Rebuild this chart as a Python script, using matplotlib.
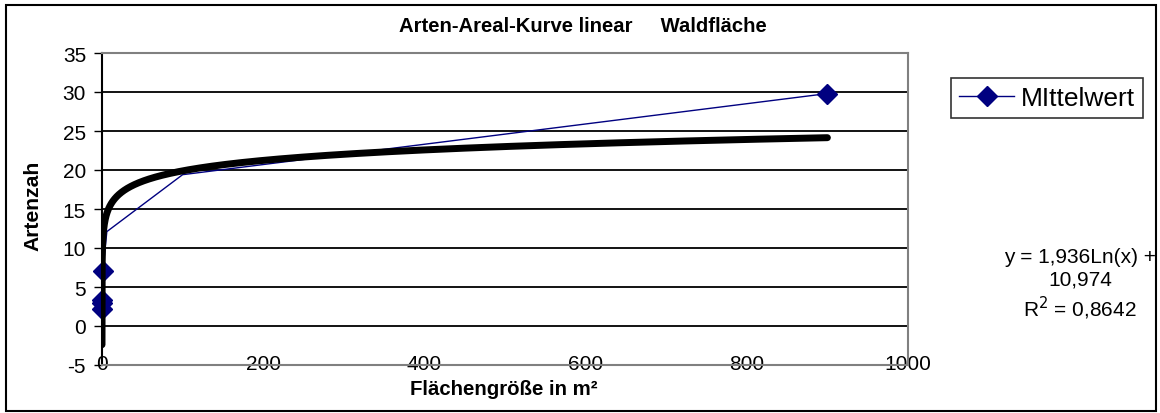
import numpy as np
import matplotlib.pyplot as plt

plt.rcParams['font.family'] = ['Liberation Sans', 'DejaVu Sans']
plt.rcParams['axes.unicode_minus'] = False

# Mittelwert data (area in m², species count)
flaeche = [0.01, 0.05, 0.1, 1, 6, 100, 900]
arten = [2.2, 3.3, 2.9, 7.0, 12.1, 19.4, 29.8]

# logarithmic trendline as printed in the chart
trend_a = 1.936
trend_b = 10.974
trend_x = np.linspace(0.001, 900, 4000)
trend_y = trend_a * np.log(trend_x) + trend_b

yticks = [-5, 0, 5, 10, 15, 20, 25, 30, 35]
xticks = [0, 200, 400, 600, 800, 1000]

fig = plt.figure(figsize=(11.6, 4.14), dpi=100)
ax = fig.add_axes([102/1160, 1 - 366/414, 806/1160, 312/414])

for v in yticks[1:-1]:
    ax.axhline(v, color='black', lw=1.3, zorder=1)

# markers at 6 and 100 m² are hidden under the trendline in the original
ax.plot(flaeche, arten, color='#000080', lw=1, marker='D', markersize=10,
        markevery=[0, 1, 2, 3, 6], label='MIttelwert', zorder=2, clip_on=False)
ax.plot(trend_x, trend_y, color='black', lw=5, solid_capstyle='round', zorder=3)

ax.set_xlim(0, 1000)
ax.set_ylim(-5, 35)
ax.set_xticks(xticks)
ax.set_yticks(yticks)
ax.tick_params(axis='x', length=0, pad=-8, labelsize=15)
ax.tick_params(axis='y', length=6, width=1, direction='out', labelsize=15, pad=5.5)

for s in ['top', 'right', 'bottom']:
    ax.spines[s].set_color('#808080')
    ax.spines[s].set_linewidth(1.5)
ax.spines['left'].set_color('black')
ax.spines['left'].set_linewidth(1.5)

fig.text(504/1160, 1 - 390/414, 'Flächengröße in m²', fontsize=14.7,
         fontweight='bold', ha='center', va='center')
fig.text(33/1160, 1 - 206/414, 'Artenzah', fontsize=15.2, fontweight='bold',
         rotation=90, ha='center', va='center')
fig.text(583/1160, 1 - 26/414, 'Arten-Areal-Kurve linear     Waldfläche',
         fontsize=14.6, fontweight='bold', ha='center', va='center')

leg = fig.legend(loc='center', bbox_to_anchor=(1047/1160, 1 - 99/414), fontsize=19,
                 frameon=True, fancybox=False, edgecolor='black', handlelength=2.1,
                 handletextpad=0.25, borderpad=0.3)
leg.get_frame().set_linewidth(1.2)

fig.text(1080/1160, 1 - 285/414, 'y = 1,936Ln(x) +\n10,974\nR$^2$ = 0,8642',
         fontsize=15, ha='center', va='center', linespacing=1.25)

# outer chart border
fig.add_artist(plt.Rectangle((6/1160, 2/414), 1150/1160, 406/414, fill=False,
                             edgecolor='black', lw=1.5, transform=fig.transFigure))

fig.savefig('out.png', dpi=100)
